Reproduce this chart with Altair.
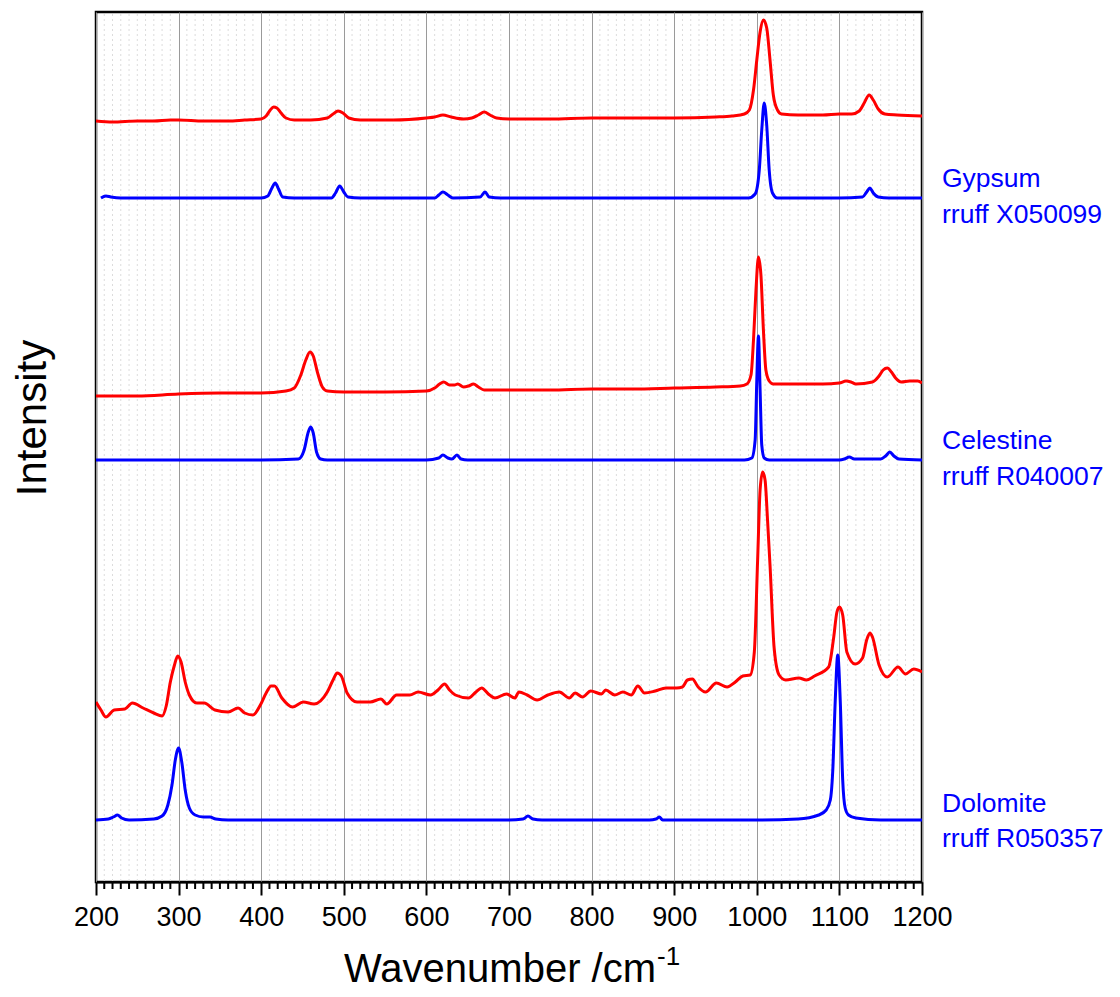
import altair as alt
import pandas as pd

# ---------------- data (wavenumber /cm-1, intensity in arbitrary offset units) ----------------
gyp_s_wn = [200, 220, 250, 270, 290, 300, 330, 360, 380, 400, 406, 411, 415, 419, 424, 430, 440, 460, 480, 487,
            493, 499, 506, 520, 560, 600, 610, 620, 630, 645, 655, 663, 670, 677, 685, 700, 750, 800, 850, 900,
            950, 970, 985, 991, 996, 1000, 1004, 1008, 1012, 1016, 1020, 1025, 1030, 1050, 1080, 1100, 1115,
            1124, 1130, 1136, 1141, 1147, 1155, 1170, 1200]
gyp_s_int = [761, 760, 761, 761, 762, 762, 761, 761, 762, 763, 766, 772, 775, 774, 769, 764, 762, 762, 764, 768,
             771, 769, 764, 762, 762, 764, 765, 767, 765, 763, 764, 767, 770, 767, 764, 763, 763, 764, 764, 764,
             765, 766, 768, 772, 792, 822, 850, 862, 854, 822, 787, 772, 768, 767, 767, 768, 768,
             771, 779, 787, 782, 773, 768, 767, 766]

gyp_r_wn = [206, 212, 218, 230, 300, 400, 408, 413, 417, 421, 426, 440, 485, 490, 495, 500, 505, 520, 610, 615,
            620, 626, 632, 665, 671, 676, 690, 800, 900, 990, 998, 1003, 1006, 1009, 1012, 1015, 1019, 1025,
            1100, 1128, 1133, 1137, 1141, 1147, 1160, 1200]
gyp_r_int = [684, 686, 685, 684, 684, 684, 686, 694, 699, 693, 685, 684, 684, 689, 696, 690, 685, 684, 684, 687,
             690, 687, 684, 685, 690, 685, 684, 684, 684, 684, 688, 712, 752, 779, 757, 712, 689, 684,
             684, 685, 690, 694, 689, 685, 684, 684]

cel_s_wn = [200, 250, 300, 350, 400, 430, 440, 448, 454, 459, 463, 468, 474, 480, 500, 550, 600, 610, 616, 621,
            628, 634, 638, 645, 651, 657, 663, 670, 700, 750, 800, 850, 900, 950, 980, 988, 993, 996, 999,
            1002, 1005, 1008, 1011, 1015, 1020, 1050, 1080, 1100, 1108, 1114, 1120, 1140, 1148, 1153, 1158,
            1163, 1168, 1175, 1185, 1195, 1200]
cel_s_int = [486, 486, 488, 489, 489, 491, 494, 507, 522, 530, 526, 510, 495, 491, 490, 490, 491, 494, 498, 500,
             497, 497, 498, 495, 496, 498, 495, 492, 492, 492, 493, 493, 494, 495, 496, 498, 507, 542, 592,
             625, 607, 552, 512, 501, 498, 498, 498, 499, 501, 500, 498, 500, 506, 512, 514,
             510, 504, 500, 501, 501, 499]

cel_r_wn = [200, 300, 400, 445, 452, 457, 460, 463, 467, 472, 480, 500, 600, 615, 620, 626, 631, 637, 642, 650,
            800, 900, 985, 994, 998, 1000, 1002, 1004, 1006, 1009, 1015, 1100, 1106, 1112, 1118, 1150, 1156,
            1161, 1166, 1172, 1200]
cel_r_int = [422, 422, 422, 423, 432, 450, 455, 449, 430, 423, 422, 422, 422, 424, 427, 424, 423, 427, 423, 422,
             422, 422, 422, 424, 442, 502, 546, 492, 437, 424, 422, 422, 423, 425, 423, 423, 426,
             430, 426, 423, 422]

dol_s_wn = [200, 206, 212, 222, 235, 244, 257, 270, 280, 285, 290, 295, 299, 303, 308, 313, 322, 331, 344, 360,
            372, 380, 390, 399, 406, 412, 416, 425, 438, 451, 464, 480, 487, 492, 497, 504, 516, 532, 545, 552,
            564, 580, 590, 605, 614, 622, 628, 635, 651, 660, 667, 675, 683, 697, 707, 712, 722, 734, 747, 761,
            773, 780, 789, 799, 812, 817, 828, 838, 848, 856, 864, 877, 890, 903, 910, 916, 922, 929, 938, 951,
            964, 974, 983, 992, 997, 1001, 1004, 1007, 1010, 1013, 1016, 1021, 1027, 1035, 1051, 1060, 1070,
            1087, 1093, 1097, 1100, 1104, 1109, 1119, 1128, 1133, 1137, 1140, 1148, 1158, 1171, 1180, 1190, 1200]
dol_s_int = [180, 172, 165, 172, 173, 179, 174, 169, 166, 176, 200, 217, 226, 220, 200, 187, 179, 179, 172, 170,
             174, 169, 167, 177, 189, 196, 196, 184, 175, 180, 178, 190, 202, 209, 206, 189, 180, 180, 183, 178,
             187, 187, 190, 187, 192, 198, 192, 187, 184, 190, 194, 188, 184, 188, 184, 190, 187, 182, 187, 190,
             184, 189, 185, 191, 188, 192, 187, 190, 187, 196, 189, 191, 194, 194, 195, 202, 203, 195, 190, 199,
             195, 200, 206, 207, 230, 322, 392, 410, 402, 362, 317, 234, 207, 202, 204, 202, 206,
             215, 244, 270, 275, 267, 230, 218, 224, 242, 249, 245, 217, 205, 215, 208, 213, 210]

dol_r_wn = [200, 215, 221, 226, 231, 240, 270, 280, 287, 292, 296, 300, 304, 308, 313, 320, 330, 338, 345, 360,
            400, 500, 600, 700, 717, 723, 729, 740, 800, 870, 878, 882, 886, 950, 1000, 1050, 1075, 1084, 1089,
            1092, 1095, 1098, 1101, 1104, 1107, 1111, 1120, 1150, 1200]
dol_r_int = [62, 63, 65, 67, 64, 62, 63, 66, 77, 97, 122, 134, 119, 92, 74, 67, 65, 65, 63, 62,
             62, 62, 62, 62, 63, 66, 63, 62, 62, 62, 63, 65, 62, 62, 62, 63, 67, 72, 82,
             112, 182, 227, 182, 102, 74, 67, 64, 62, 62]

series_names = ["Gypsum sample", "Gypsum rruff X050099", "Celestine sample", "Celestine rruff R040007",
                "Dolomite sample", "Dolomite rruff R050357"]
series_colors = ["#ff0000", "#0000ff", "#ff0000", "#0000ff", "#ff0000", "#0000ff"]
series_data = [(gyp_s_wn, gyp_s_int), (gyp_r_wn, gyp_r_int), (cel_s_wn, cel_s_int),
               (cel_r_wn, cel_r_int), (dol_s_wn, dol_s_int), (dol_r_wn, dol_r_int)]

major_ticks = [200, 300, 400, 500, 600, 700, 800, 900, 1000, 1100, 1200]
minor_ticks = [v for v in range(200, 1201, 10) if v % 100 != 0]

rows = []
for name, (wn, iv) in zip(series_names, series_data):
    for i, (w, v) in enumerate(zip(wn, iv)):
        rows.append({"series": name, "wn": w, "intensity": v, "i": i})
df = pd.DataFrame(rows)
minor_df = pd.DataFrame({"wn": minor_ticks})

# ---------------- chart ----------------
W, H = 826, 870
FONT = "Liberation Sans"
x_scale = alt.Scale(domain=[200, 1200], nice=False, zero=False)
y_scale = alt.Scale(domain=[0, 870], nice=False, zero=False)
x_axis = alt.Axis(values=major_ticks, grid=True, gridColor="#9a9a9a", gridWidth=1,
                  tickSize=13, tickWidth=2, tickColor="black", domainColor="black", domainWidth=2,
                  labelFontSize=27, labelFont=FONT, labelColor="black", labelPadding=9,
                  labelFlush=False, labelOverlap=False, format="d", title=None)

minor_grid = alt.Chart(minor_df).mark_rule(color="#dcdcdc", strokeWidth=1, strokeDash=[2, 3]).encode(
    x=alt.X("wn:Q", scale=x_scale, axis=x_axis),
    y=alt.value(2),
    y2=alt.value(H - 1),
)
minor_tick = alt.Chart(minor_df).mark_rule(color="black", strokeWidth=2).encode(
    x=alt.X("wn:Q", scale=x_scale, axis=x_axis),
    y=alt.value(H),
    y2=alt.value(H + 7),
)
lines = alt.Chart(df).mark_line(strokeWidth=3, clip=True, interpolate="monotone").encode(
    x=alt.X("wn:Q", scale=x_scale, axis=x_axis),
    y=alt.Y("intensity:Q", scale=y_scale, axis=None),
    color=alt.Color("series:N", scale=alt.Scale(domain=series_names, range=series_colors), legend=None),
    detail="series:N",
    order="i:Q",
)

def txt(t, x, y, size, color="black", angle=0, align="left"):
    return alt.Chart(pd.DataFrame({"t": [t]})).mark_text(
        font=FONT, fontSize=size, color=color, align=align, baseline="alphabetic", angle=angle
    ).encode(text="t:N", x=alt.value(x), y=alt.value(y))

OX, OY = 96, 12  # page position of plot origin
labels = [
    txt("Gypsum", 942 - OX, 187 - OY, 26.5, "#0000ff"),
    txt("rruff X050099", 942 - OX, 223 - OY, 26.5, "#0000ff"),
    txt("Celestine", 942 - OX, 449 - OY, 26.5, "#0000ff"),
    txt("rruff R040007", 942 - OX, 485 - OY, 26.5, "#0000ff"),
    txt("Dolomite", 942 - OX, 812 - OY, 26.5, "#0000ff"),
    txt("rruff R050357", 942 - OX, 847 - OY, 26.5, "#0000ff"),
    txt("Wavenumber /cm", 656 - OX, 982 - OY, 40, align="right"),
    txt("-1", 657 - OX, 965 - OY, 26),
    txt("Intensity", 46 - OX, 418 - OY, 42, angle=270, align="center"),
]

chart = alt.layer(minor_grid, minor_tick, lines, *labels).properties(
    width=W, height=H,
    autosize=alt.AutoSizeParams(type="none"),
    padding={"left": 88, "top": 4, "right": 186, "bottom": 110},
).configure(
    background="white",
    view=alt.ViewConfig(stroke="black", strokeWidth=2.5),
)

chart.save("out.html", embed_options={"renderer": "svg", "actions": False})
